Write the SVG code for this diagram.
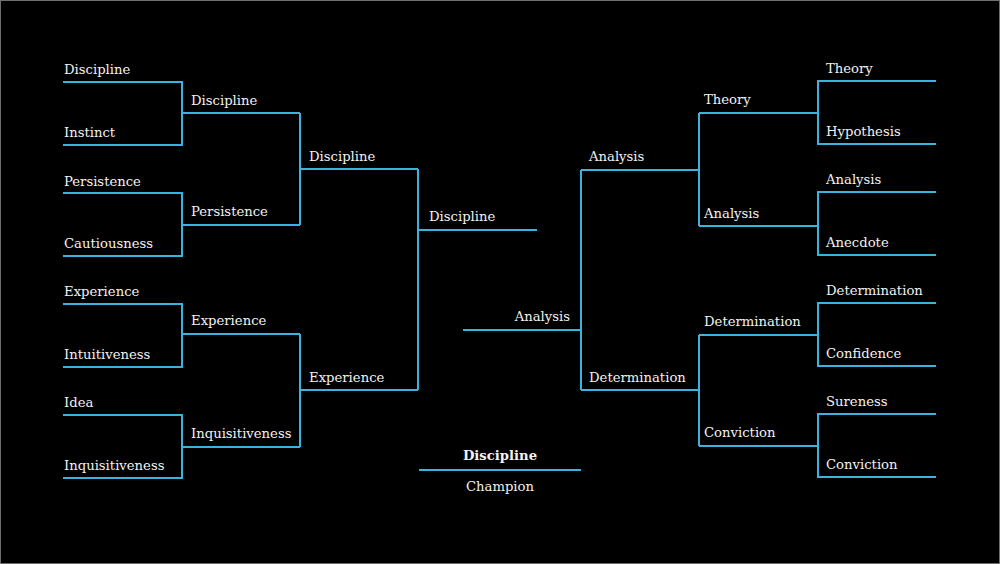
<svg xmlns="http://www.w3.org/2000/svg" width="1000" height="564" viewBox="0 0 1000 564">
<style>
.ln{fill:none;stroke:#38b4df;stroke-width:2}
.t{font-family:"DejaVu Serif","Liberation Serif",serif;font-size:13.2px;fill:#f2f2f2}
.b{font-weight:bold}
.e{text-anchor:end}
.m{text-anchor:middle}
</style>
<rect x="0" y="0" width="1000" height="564" fill="#000"/>
<rect x="0.5" y="0.5" width="999" height="563" fill="none" stroke="#6e6e6e" stroke-width="1"/>
<g id="connectors">
<path class="ln" d="M63 82H182V145H63M182 113H300"/>
<path class="ln" d="M63 193H182V256H63M182 225H300"/>
<path class="ln" d="M63 304H182V367H63M182 334H300"/>
<path class="ln" d="M63 415H182V478H63M182 447H300"/>
<path class="ln" d="M300 113V225M300 169H418"/>
<path class="ln" d="M300 334V447M300 390H418"/>
<path class="ln" d="M418 169V390M418 230H537"/>
<path class="ln" d="M936 81H818V144H936M818 113H699"/>
<path class="ln" d="M936 192H818V255H936M818 226H699"/>
<path class="ln" d="M936 303H818V366H936M818 335H699"/>
<path class="ln" d="M936 414H818V477H936M818 446H699"/>
<path class="ln" d="M699 113V226M699 170H581"/>
<path class="ln" d="M699 335V446M699 390H581"/>
<path class="ln" d="M581 170V390M581 330H463"/>
<path class="ln" d="M419 470H581"/>
</g>
<g id="left-r1">
<text class="t" x="64" y="74">Discipline</text>
<text class="t" x="64" y="137">Instinct</text>
<text class="t" x="64" y="186">Persistence</text>
<text class="t" x="64" y="248">Cautiousness</text>
<text class="t" x="64" y="296">Experience</text>
<text class="t" x="64" y="359">Intuitiveness</text>
<text class="t" x="64" y="407">Idea</text>
<text class="t" x="64" y="470">Inquisitiveness</text>
</g>
<g id="left-r2">
<text class="t" x="191" y="105">Discipline</text>
<text class="t" x="191" y="216">Persistence</text>
<text class="t" x="191" y="325">Experience</text>
<text class="t" x="191" y="438">Inquisitiveness</text>
</g>
<g id="left-r3">
<text class="t" x="309" y="161">Discipline</text>
<text class="t" x="309" y="382">Experience</text>
</g>
<g id="left-final">
<text class="t" x="429" y="221">Discipline</text>
</g>
<g id="right-r1">
<text class="t" x="826" y="73">Theory</text>
<text class="t" x="826" y="136">Hypothesis</text>
<text class="t" x="826" y="184">Analysis</text>
<text class="t" x="826" y="247">Anecdote</text>
<text class="t" x="826" y="295">Determination</text>
<text class="t" x="826" y="358">Confidence</text>
<text class="t" x="826" y="406">Sureness</text>
<text class="t" x="826" y="469">Conviction</text>
</g>
<g id="right-r2">
<text class="t" x="704" y="104">Theory</text>
<text class="t" x="704" y="218">Analysis</text>
<text class="t" x="704" y="326">Determination</text>
<text class="t" x="704" y="437">Conviction</text>
</g>
<g id="right-r3">
<text class="t" x="589" y="161">Analysis</text>
<text class="t" x="589" y="382">Determination</text>
</g>
<g id="right-final">
<text class="t e" x="570" y="321">Analysis</text>
</g>
<g id="champion">
<text class="t b m" x="500" y="460">Discipline</text>
<text class="t m" x="500" y="491">Champion</text>
</g>
</svg>
